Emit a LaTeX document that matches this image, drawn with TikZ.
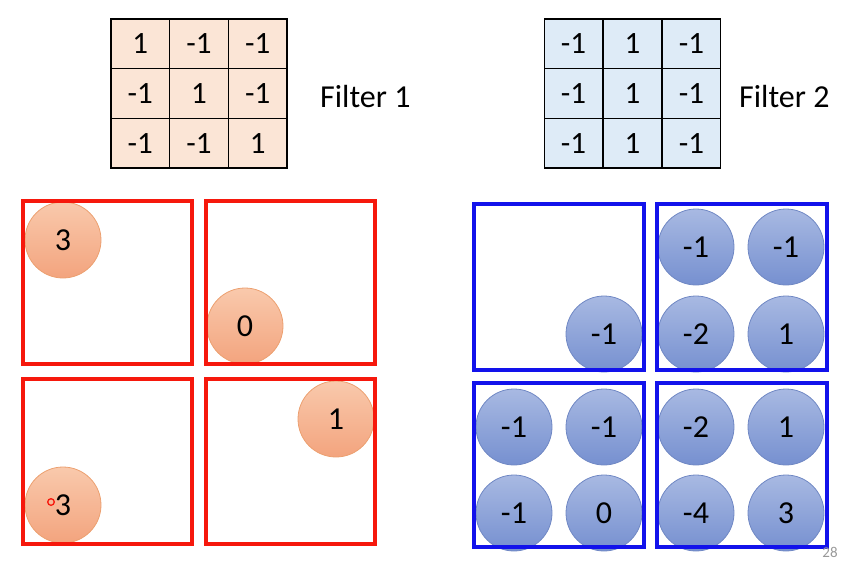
\documentclass[tikz,border=0pt]{standalone}
\usepackage{fontspec}
\setmainfont{Carlito}
\definecolor{peach}{RGB}{251,229,214}
\definecolor{lblue}{RGB}{222,235,247}
\definecolor{boxred}{RGB}{246,24,12}
\definecolor{boxblue}{RGB}{18,18,235}
\definecolor{orTop}{RGB}{249,201,172}
\definecolor{orBot}{RGB}{243,164,126}
\definecolor{orLine}{RGB}{236,160,112}
\definecolor{blTop}{RGB}{168,185,226}
\definecolor{blBot}{RGB}{118,144,208}
\definecolor{blLine}{RGB}{112,136,196}
\tikzset{
  cellA/.style={draw=black, line width=1.2pt, fill=peach, minimum width=58.7pt, minimum height=49.7pt, inner sep=0pt, font=\fontsize{31}{31}\selectfont},
  cellB/.style={cellA, fill=lblue},
  flabel/.style={anchor=west, inner sep=0pt, font=\fontsize{32}{32}\selectfont},
  redbox/.style={draw=boxred, line width=3.6pt},
  bluebox/.style={draw=boxblue, line width=3.6pt},
  orball/.style={circle, minimum size=76pt, inner sep=0pt, top color=orTop, bottom color=orBot, draw=orLine, line width=0.8pt, font=\fontsize{32}{32}\selectfont},
  blball/.style={circle, minimum size=76pt, inner sep=0pt, top color=blTop, bottom color=blBot, draw=blLine, line width=0.8pt, font=\fontsize{32}{32}\selectfont},
}
\begin{document}
\begin{tikzpicture}[x=1pt,y=-1pt]
\useasboundingbox (0,0) rectangle (852,563);
% Filter 1
\node[cellA] (a11) at (140.3,43.8) {1};
\node[cellA] (a12) at (199.0,43.8) {-1};
\node[cellA] (a13) at (257.7,43.8) {-1};
\node[cellA] (a21) at (140.3,93.5) {-1};
\node[cellA] (a22) at (199.0,93.5) {1};
\node[cellA] (a23) at (257.7,93.5) {-1};
\node[cellA] (a31) at (140.3,143.2) {-1};
\node[cellA] (a32) at (199.0,143.2) {-1};
\node[cellA] (a33) at (257.7,143.2) {1};
\node[flabel] (f1) at (320,97) {Filter 1};
% Filter 2
\node[cellB] (b11) at (573.5,43.8) {-1};
\node[cellB] (b12) at (632.5,43.8) {1};
\node[cellB] (b13) at (691.5,43.8) {-1};
\node[cellB] (b21) at (573.5,93.5) {-1};
\node[cellB] (b22) at (632.5,93.5) {1};
\node[cellB] (b23) at (691.5,93.5) {-1};
\node[cellB] (b31) at (573.5,143.2) {-1};
\node[cellB] (b32) at (632.5,143.2) {1};
\node[cellB] (b33) at (691.5,143.2) {-1};
\node[flabel] (f2) at (739,97) {Filter 2};
% orange circles
\node[orball] (o1) at (63,240) {3};
\node[orball] (o2) at (245,326) {0};
\node[orball] (o3) at (63,505) {3};
\node[orball] (o4) at (336,419) {1};
\draw[boxred, line width=1.3pt] (51,502) circle (3.3pt);
% blue circles
\node[blball] (p1) at (604,334) {-1};
\node[blball] (q1) at (696,247) {-1};
\node[blball] (q2) at (786,247) {-1};
\node[blball] (q3) at (696,334) {-2};
\node[blball] (q4) at (786,334) {1};
\node[blball] (r1) at (514,427) {-1};
\node[blball] (r2) at (604,427) {-1};
\node[blball] (r3) at (514,513) {-1};
\node[blball] (r4) at (604,513) {0};
\node[blball] (s1) at (696,427) {-2};
\node[blball] (s2) at (786,427) {1};
\node[blball] (s3) at (696,513) {-4};
\node[blball] (s4) at (786,513) {3};
% red boxes
\draw[redbox] (23,201) rectangle (192,364);
\draw[redbox] (206,201) rectangle (375,364);
\draw[redbox] (23,379) rectangle (192,544);
\draw[redbox] (206,379) rectangle (375,544);
% blue boxes
\draw[bluebox] (474,204) rectangle (644,370);
\draw[bluebox] (657,204) rectangle (827,370);
\draw[bluebox] (474,383) rectangle (644,547);
\draw[bluebox] (657,383) rectangle (827,547);
% page number
\node[text=black!40, font=\fontsize{15}{15}\selectfont] (pg) at (830,552) {28};
\end{tikzpicture}
\end{document}
